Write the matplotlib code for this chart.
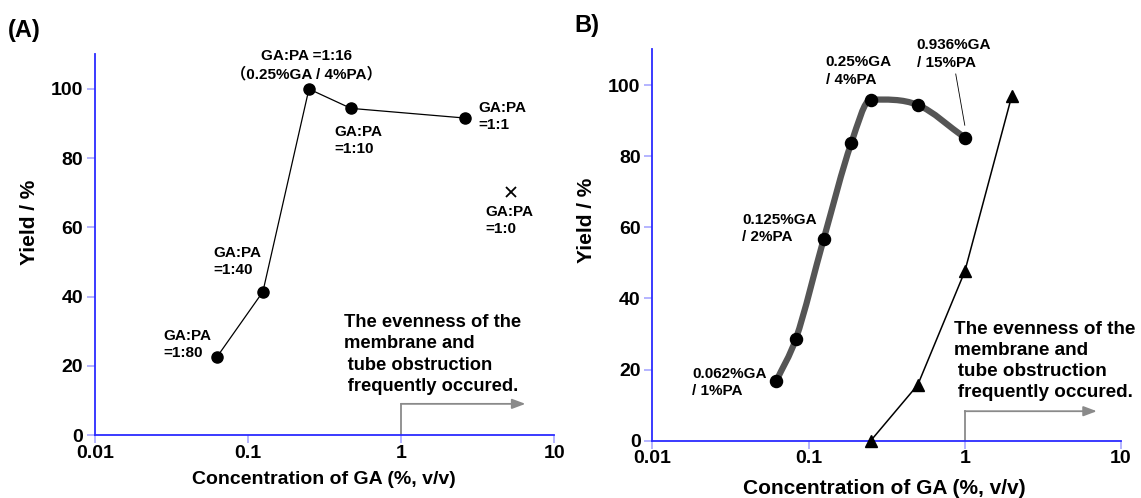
import numpy as np
import matplotlib
matplotlib.use("Agg")
import matplotlib.pyplot as plt
from matplotlib.path import Path
from matplotlib.patches import PathPatch

plt.rcParams["font.family"] = ["Liberation Sans", "Noto Sans CJK SC", "DejaVu Sans"]
plt.rcParams["font.weight"] = "bold"

# ---- data -------------------------------------------------------------
# Panel A: yield vs GA concentration at fixed GA:PA ratios
A_X = [0.0625, 0.125, 0.25, 0.47, 2.62]
A_Y = [22.5, 41.4, 100.0, 94.4, 91.6]
A_X_ZERO = [5.2]     # GA:PA = 1:0
A_Y_ZERO = [70.3]

# Panel B: GA/PA series (circles) and second series (triangles)
B_X = [0.062, 0.083, 0.125, 0.1875, 0.25, 0.5, 1.0]
B_Y = [16.7, 28.7, 56.7, 83.6, 95.9, 94.4, 85.2]
B_TRI_X = [0.25, 0.5, 1.0, 2.0]
B_TRI_Y = [0.0, 15.7, 47.6, 97.0]

NOTE = "The evenness of the\nmembrane and\n\u2009tube obstruction\n\u2009frequently occured."
ARROW_START = 1.0
ARROW_Y = [9.0, 8.3]
ARROW_END = [6.5, 7.0]

YTICKS = [0, 20, 40, 60, 80, 100]
XTICKS = [0.01, 0.1, 1, 10]
XTICKLABELS = ["0.01", "0.1", "1", "10"]

SPINE = "#2b2bff"
TICK = "#a8a8ff"
GRAY = "#8a8a8a"


def style_axes(ax):
    ax.set_xscale("log")
    ax.set_xlim(0.01, 10)
    ax.set_ylim(0, 110)
    for s in ("top", "right"):
        ax.spines[s].set_visible(False)
    for s in ("left", "bottom"):
        ax.spines[s].set_color(SPINE)
        ax.spines[s].set_linewidth(1.3)
    ax.set_xticks(XTICKS)
    ax.set_xticklabels(XTICKLABELS)
    ax.minorticks_off()
    ax.set_yticks(YTICKS)
    ax.tick_params(axis="both", direction="out", length=5.5, width=1.2,
                   color=TICK, labelsize=14)
    ax.tick_params(axis="y", pad=3)
    ax.tick_params(axis="x", pad=1.5)
    for lab in ax.get_xticklabels() + ax.get_yticklabels():
        lab.set_fontweight("bold")
    ax.patch.set_alpha(0)


def smooth_path(xs, ys):
    # monotone cubic (Hermite -> Bezier) through the points in (log x, y)
    lx = np.log10(xs)
    y = np.asarray(ys, dtype=float)
    h = np.diff(lx)
    d = np.diff(y) / h
    m = np.empty_like(y)
    m[0], m[-1] = d[0], d[-1]
    for i in range(1, len(y) - 1):
        m[i] = 0.0 if d[i - 1] * d[i] <= 0 else 0.5 * (d[i - 1] + d[i])
    verts = [(lx[0], y[0])]
    codes = [Path.MOVETO]
    for i in range(len(y) - 1):
        verts += [(lx[i] + h[i] / 3, y[i] + m[i] * h[i] / 3),
                  (lx[i + 1] - h[i] / 3, y[i + 1] - m[i + 1] * h[i] / 3),
                  (lx[i + 1], y[i + 1])]
        codes += [Path.CURVE4] * 3
    v = np.array(verts)
    v[:, 0] = 10 ** v[:, 0]
    return Path(v, codes)


fig = plt.figure(figsize=(11.41, 4.98), dpi=100)
axA = fig.add_axes([0.0833, 0.1265, 0.4023, 0.7643])
axB = fig.add_axes([0.5717, 0.115, 0.4108, 0.7857])

ann = dict(fontsize=11, fontweight="bold", linespacing=1.3, va="center")
arrow_kw = dict(arrowstyle="-|>,head_length=0.8,head_width=0.3",
                color=GRAY, lw=1.3, shrinkA=0, shrinkB=0)

# ---- panel A ----------------------------------------------------------
style_axes(axA)
axA.plot(A_X, A_Y, color="black", lw=0.9, marker="o", ms=8, zorder=3)
axA.plot(A_X_ZERO, A_Y_ZERO, ls="", marker="x", color="black", ms=7, mew=1.3)

axA.text(0.0281, 26.2, "GA:PA\n=1:80", ha="left", **ann)
axA.text(0.0589, 50.2, "GA:PA\n=1:40", ha="left", **ann)
axA.text(0.24, 106.9, "GA:PA =1:16\n\uff080.25%GA / 4%PA\uff09", ha="center", **ann)
axA.text(0.364, 85.2, "GA:PA\n=1:10", ha="left", **ann)
axA.text(3.18, 92.1, "GA:PA\n=1:1", ha="left", **ann)
axA.text(3.56, 62.0, "GA:PA\n=1:0", ha="left", **ann)

axA.text(0.422, 23.3, NOTE, ha="left", va="center", fontsize=13.2,
         fontweight="bold", linespacing=1.34)
axA.plot([ARROW_START, ARROW_START], [0, ARROW_Y[0]], color=GRAY, lw=1.3)
axA.annotate("", xy=(ARROW_END[0], ARROW_Y[0]), xytext=(ARROW_START, ARROW_Y[0]),
             arrowprops=arrow_kw)
axA.set_xlabel("Concentration of GA (%, v/v)", fontsize=14, fontweight="bold")
axA.xaxis.set_label_coords(0.499, -0.095)
axA.set_ylabel("Yield / %", fontsize=15, fontweight="bold", va="center")
axA.yaxis.set_label_coords(-0.143, 0.558)

# ---- panel B ----------------------------------------------------------
style_axes(axB)
axB.add_patch(PathPatch(smooth_path(B_X, B_Y), facecolor="none",
                        edgecolor="#555555", lw=4.5, capstyle="round",
                        joinstyle="round", zorder=2))
axB.plot(B_X, B_Y, ls="", marker="o", color="black", ms=8.7, zorder=3)
axB.plot(B_TRI_X, B_TRI_Y, color="black", lw=1.1, marker="^", ms=8,
         zorder=3, clip_on=False)

axB.text(0.0180, 16.4, "0.062%GA\n/ 1%PA", ha="left", **ann)
axB.text(0.0377, 59.7, "0.125%GA\n/ 2%PA", ha="left", **ann)
axB.text(0.129, 103.9, "0.25%GA\n/ 4%PA", ha="left", **ann)
axB.text(0.492, 108.7, "0.936%GA\n/ 15%PA", ha="left", **ann)
axB.plot([0.875, 1.0], [103.1, 88.7], color="black", lw=0.6)

axB.text(0.855, 22.4, NOTE, ha="left", va="center", fontsize=13.6,
         fontweight="bold", linespacing=1.33)
axB.plot([ARROW_START, ARROW_START], [0, ARROW_Y[1]], color=GRAY, lw=1.3)
axB.annotate("", xy=(ARROW_END[1], ARROW_Y[1]), xytext=(ARROW_START, ARROW_Y[1]),
             arrowprops=arrow_kw)
axB.set_xlabel("Concentration of GA (%, v/v)", fontsize=15, fontweight="bold")
axB.xaxis.set_label_coords(0.495, -0.097)
axB.set_ylabel("Yield / %", fontsize=15, fontweight="bold", va="center")
axB.yaxis.set_label_coords(-0.141, 0.562)

fig.text(0.007, 0.938, "(A)", fontsize=17, fontweight="bold", ha="left", va="center")
fig.text(0.503, 0.948, "B)", fontsize=17, fontweight="bold", ha="left", va="center")

fig.savefig("out.png", dpi=100)
